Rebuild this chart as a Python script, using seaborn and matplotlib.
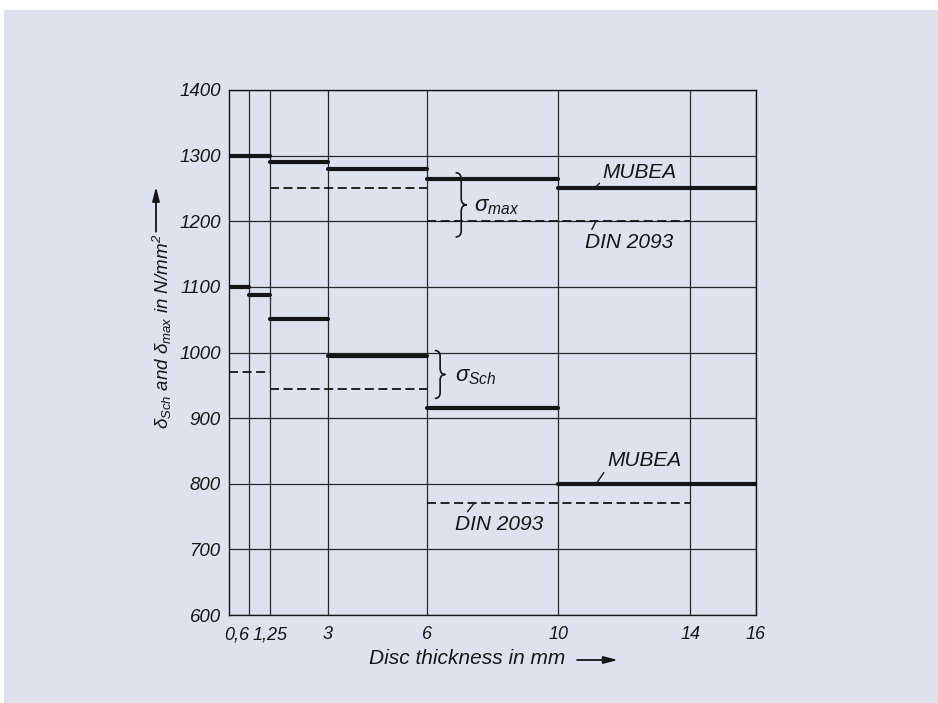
import matplotlib
matplotlib.use("Agg")
import matplotlib.pyplot as plt
import seaborn as sns
import pandas as pd
from matplotlib.path import Path
from matplotlib.patches import PathPatch, Rectangle
from matplotlib import font_manager

# ---------------- data ----------------
x_ticks = [0.6, 1.25, 3, 6, 10, 14, 16]
x_tick_labels = ["0,6", "1,25", "3", "6", "10", "14", "16"]
y_ticks = [600, 700, 800, 900, 1000, 1100, 1200, 1300, 1400]
y_tick_labels = ["600", "700", "800", "900", "1000", "1100", "1200", "1300", "1400"]

# sigma_max
mubea_max_start = [0, 1.25, 3, 6, 10]
mubea_max_end = [1.25, 3, 6, 10, 16]
mubea_max_val = [1300, 1290, 1280, 1265, 1250]
din_max_start = [1.25, 6]
din_max_end = [6, 14]
din_max_val = [1250, 1200]
# sigma_Sch
mubea_sch_start = [0, 0.6, 1.25, 3, 6, 10]
mubea_sch_end = [0.6, 1.25, 3, 6, 10, 16]
mubea_sch_val = [1100, 1088, 1051, 995, 916, 800]
din_sch_start = [0, 1.25, 6]
din_sch_end = [1.25, 6, 14]
din_sch_val = [970, 944, 770]

# ---------------- build long table ----------------
rows = []
seg = 0
for name, starts, ends, vals in [
    ("MUBEA", mubea_max_start, mubea_max_end, mubea_max_val),
    ("DIN 2093", din_max_start, din_max_end, din_max_val),
    ("MUBEA", mubea_sch_start, mubea_sch_end, mubea_sch_val),
    ("DIN 2093", din_sch_start, din_sch_end, din_sch_val),
]:
    for s, e, v in zip(starts, ends, vals):
        rows.append({"x": s, "y": v, "seg": seg, "series": name})
        rows.append({"x": e, "y": v, "seg": seg, "series": name})
        seg += 1
df = pd.DataFrame(rows)

# ---------------- style ----------------
BG = "#dee2ef"
INK = "#151515"
sns.set_theme(style="white")
names = {f.name for f in font_manager.fontManager.ttflist}
NARROW = "Liberation Sans Narrow" if "Liberation Sans Narrow" in names else "Liberation Sans"
plt.rcParams["font.family"] = [NARROW, "DejaVu Sans"]
plt.rcParams["mathtext.fontset"] = "custom"
plt.rcParams["mathtext.it"] = NARROW + ":italic"
plt.rcParams["mathtext.rm"] = NARROW + ":italic"
plt.rcParams["mathtext.default"] = "it"

fig = plt.figure(figsize=(9.38, 7.03), dpi=100)
fig.patch.set_facecolor("white")
fig.patches.append(Rectangle((4 / 938, 0), 1 - 4 / 938, 1 - 10 / 703,
                             transform=fig.transFigure, facecolor=BG,
                             edgecolor="none", zorder=-10))

W, H = 938, 703
L, R, T, B = 229, 756, 90, 615
ax = fig.add_axes([L / W, 1 - B / H, (R - L) / W, (B - T) / H])
ax.set_facecolor(BG)

sns.lineplot(data=df, x="x", y="y", units="seg", estimator=None,
             style="series", size="series",
             sizes={"MUBEA": 3.0, "DIN 2093": 1.3},
             dashes={"MUBEA": "", "DIN 2093": (5, 2.5)},
             color=INK, legend=False, sort=False, ax=ax, zorder=3)

ax.set_xlim(0, 16)
ax.set_ylim(600, 1400)
ax.set_xticks(x_ticks)
ax.set_xticklabels(x_tick_labels)
ax.set_yticks(y_ticks)
ax.set_yticklabels(y_tick_labels)
ax.grid(True, color="#2a2a2a", linewidth=0.9)
ax.set_axisbelow(True)
for sp in ax.spines.values():
    sp.set_visible(True)
    sp.set_color(INK)
    sp.set_linewidth(1.0)
ax.tick_params(axis="both", length=0, colors=INK)
ax.tick_params(axis="y", pad=6, labelsize=13.5)
ax.tick_params(axis="x", pad=8, labelsize=13)
for lab in ax.get_xticklabels() + ax.get_yticklabels():
    lab.set_style("italic")
ax.get_xticklabels()[0].set_ha("right")

# axis labels
ax.set_xlabel("Disc thickness in mm", family=["Liberation Sans", "DejaVu Sans"],
              style="italic", fontsize=15, color=INK)
ax.xaxis.set_label_coords((467.5 - L) / (R - L), -(658 - B) / (B - T))
ax.xaxis.label.set_va("center")
ax.set_ylabel(r"$\delta_{Sch}$ and $\delta_{max}$ in N/mm$^{2}$",
              fontsize=13.5, color=INK, style="italic")
ax.yaxis.set_label_coords(-(L - 162) / (R - L), (B - 429) / (B - T))
ax.yaxis.label.set_va("center")
ax.yaxis.label.set_ha("left")

# axis-label arrows
fig.canvas.draw()
bb = ax.yaxis.label.get_window_extent()
ap = dict(arrowstyle="-|>,head_length=0.7,head_width=0.18", color=INK, lw=1.3,
          shrinkA=0, shrinkB=0)
y_start = bb.y1 + 2
ax.annotate("", xy=(156, y_start + 45), xytext=(156, y_start),
            xycoords="figure pixels", textcoords="figure pixels", arrowprops=ap)
ax.annotate("", xy=(618, H - 660), xytext=(577, H - 660),
            xycoords="figure pixels", textcoords="figure pixels", arrowprops=ap)

# curly braces
def brace(ax, x, y0, y1, w, d):
    m = (y0 + y1) / 2
    xm = x + w / 2
    verts = [(x, y1), (xm, y1), (xm, y1 - d),
             (xm, m + d),
             (xm, m), (x + w, m),
             (xm, m), (xm, m - d),
             (xm, y0 + d),
             (xm, y0), (x, y0)]
    codes = [Path.MOVETO, Path.CURVE3, Path.CURVE3,
             Path.LINETO,
             Path.CURVE3, Path.CURVE3,
             Path.CURVE3, Path.CURVE3,
             Path.LINETO,
             Path.CURVE3, Path.CURVE3]
    ax.add_patch(PathPatch(Path(verts, codes), facecolor="none",
                           edgecolor=INK, lw=1.2, zorder=4))

brace(ax, 6.88, 1176, 1274, 0.34, 10)
brace(ax, 6.25, 930, 1003, 0.32, 9)

ax.text(7.45, 1222, r"$\sigma_{max}$", fontsize=16, color=INK, va="center", ha="left")
ax.text(6.85, 963, r"$\sigma_{Sch}$", fontsize=16, color=INK, va="center", ha="left")

# series labels with leaders
lp = dict(arrowstyle="-", color=INK, lw=1.0, shrinkA=0, shrinkB=0)
ax.annotate("MUBEA", xy=(11.1, 1250), xytext=(11.35, 1275), fontsize=15, style="italic",
            color=INK, ha="left", va="center",
            arrowprops=dict(lp, relpos=(0, 0.1)))
ax.annotate("DIN 2093", xy=(11.13, 1199), xytext=(10.82, 1168), fontsize=15, style="italic",
            color=INK, ha="left", va="center",
            arrowprops=dict(lp, relpos=(0.05, 0.95)))
ax.annotate("MUBEA", xy=(11.15, 800), xytext=(11.48, 836), fontsize=15, style="italic",
            color=INK, ha="left", va="center",
            arrowprops=dict(lp, relpos=(0, 0.1)))
ax.annotate("DIN 2093", xy=(7.44, 770), xytext=(6.87, 738), fontsize=15, style="italic",
            color=INK, ha="left", va="center",
            arrowprops=dict(lp, relpos=(0.1, 0.95)))

fig.savefig("out.png", dpi=100, facecolor=fig.get_facecolor())
